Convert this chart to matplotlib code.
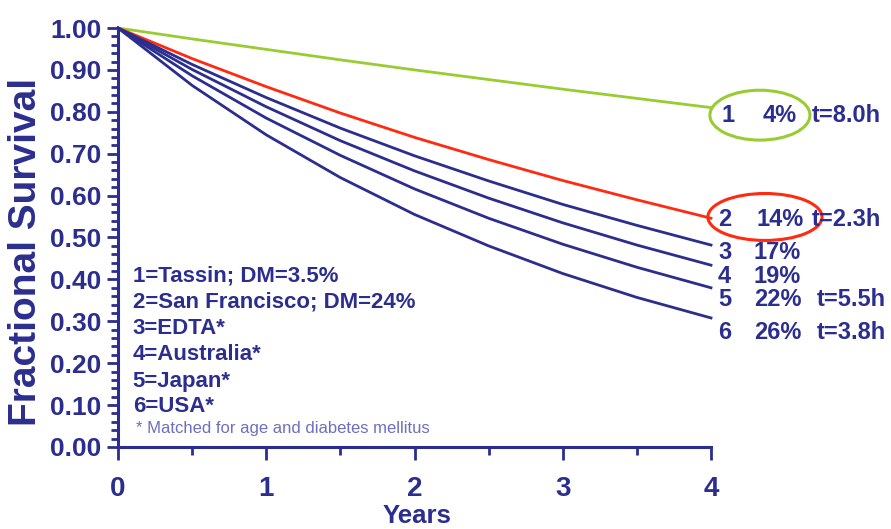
import matplotlib
matplotlib.use("Agg")
import matplotlib.pyplot as plt
from matplotlib.patches import Ellipse
from matplotlib.ticker import MultipleLocator

# ================= data =================
years = [0, 0.5, 1, 1.5, 2, 2.5, 3, 3.5, 4]
tassin = [1.0, 0.974, 0.949, 0.924, 0.900, 0.877, 0.854, 0.832, 0.810]
san_francisco = [1.0, 0.927, 0.860, 0.797, 0.739, 0.686, 0.636, 0.590, 0.546]
edta = [1.0, 0.913, 0.834, 0.761, 0.695, 0.635, 0.579, 0.529, 0.482]
australia = [1.0, 0.901, 0.812, 0.731, 0.659, 0.594, 0.535, 0.482, 0.434]
japan = [1.0, 0.886, 0.785, 0.696, 0.616, 0.546, 0.484, 0.429, 0.380]
usa = [1.0, 0.863, 0.745, 0.643, 0.555, 0.480, 0.414, 0.357, 0.308]

series_ids = ["1", "2", "3", "4", "5", "6"]
mortality = ["4%", "14%", "17%", "19%", "22%", "26%"]
dialysis_time = ["t=8.0h", "t=2.3h", "", "", "t=5.5h", "t=3.8h"]
legend_lines = ["1=Tassin; DM=3.5%", "2=San Francisco; DM=24%", "3=EDTA*",
                "4=Australia*", "5=Japan*", "6=USA*"]
footnote = "* Matched for age and diabetes mellitus"

NAVY = "#2b2e8e"
GREEN = "#99cc33"
RED = "#ff2a10"

plt.rcParams["font.family"] = ["Liberation Sans", "DejaVu Sans"]

fig = plt.figure(figsize=(8.91, 5.29), dpi=100)
ax = fig.add_axes([118 / 891, 1 - 447 / 529, (711 - 118) / 891, (447 - 28) / 529])

curves = [tassin, san_francisco, edta, australia, japan, usa]
colors = [GREEN, RED, NAVY, NAVY, NAVY, NAVY]
for vals, c in zip(curves, colors):
    ax.plot(years, vals, color=c, lw=2.0, clip_on=False, zorder=3)

ax.set_xlim(0, 4)
ax.set_ylim(0, 1.0)

# --- axes styling ---
for s in ["top", "right"]:
    ax.spines[s].set_visible(False)
for s in ["left", "bottom"]:
    ax.spines[s].set_color(NAVY)
    ax.spines[s].set_linewidth(2.2)

ax.xaxis.set_major_locator(MultipleLocator(1))
ax.xaxis.set_minor_locator(MultipleLocator(0.5))
ax.yaxis.set_major_locator(MultipleLocator(0.1))
ax.yaxis.set_minor_locator(MultipleLocator(0.02))
ax.yaxis.set_major_formatter(plt.FuncFormatter(lambda v, p: f"{v:.2f}"))

ax.tick_params(axis="both", which="both", direction="out", colors=NAVY, width=2.0)
ax.tick_params(axis="x", which="major", length=9, labelsize=20, pad=12)
ax.tick_params(axis="x", which="minor", length=6)
ax.tick_params(axis="y", which="major", length=8, labelsize=19, pad=4)
ax.tick_params(axis="y", which="minor", length=5)
for lab in ax.get_xticklabels() + ax.get_yticklabels():
    lab.set_fontweight("bold")
    lab.set_color(NAVY)

ax.set_ylabel("Fractional Survival", fontsize=28, fontweight="bold", color=NAVY)
ax.yaxis.set_label_coords(-0.124, 0.465)
ax.set_xlabel("Years", fontsize=18.5, fontweight="bold", color=NAVY)
ax.xaxis.set_label_coords(0.504, -0.137)

# --- legend block inside the axes ---
legend_y = [0.409, 0.346, 0.284, 0.220, 0.156, 0.096]
for txt, yy in zip(legend_lines, legend_y):
    ax.text(0.10, yy, txt, fontsize=16, fontweight="bold", color=NAVY, va="center")
ax.text(0.12, 0.045, footnote, fontsize=12, color="#6e6fbf", va="center")

# --- right-hand end labels ---
label_y = [0.792, 0.542, 0.465, 0.406, 0.351, 0.274]
pct_x = [4.35, 4.31, 4.29, 4.29, 4.29, 4.29]
t_x = [4.68, 4.68, 4.68, 4.68, 4.715, 4.715]
id_x = [4.074, 4.047, 4.047, 4.047, 4.047, 4.047]
for i in range(6):
    kw = dict(fontsize=17, fontweight="bold", color=NAVY, va="center", clip_on=False)
    ax.text(id_x[i], label_y[i], series_ids[i], **kw)
    ax.text(pct_x[i], label_y[i], mortality[i], **kw)
    if dialysis_time[i]:
        ax.text(t_x[i], label_y[i], dialysis_time[i], **kw)

ax.add_patch(Ellipse((4.33, 0.792), 0.675, 0.119, fill=False, ec=GREEN, lw=2.2, clip_on=False))
ax.add_patch(Ellipse((4.364, 0.549), 0.77, 0.112, fill=False, ec=RED, lw=2.2, clip_on=False))

fig.savefig("out.png", dpi=100)
